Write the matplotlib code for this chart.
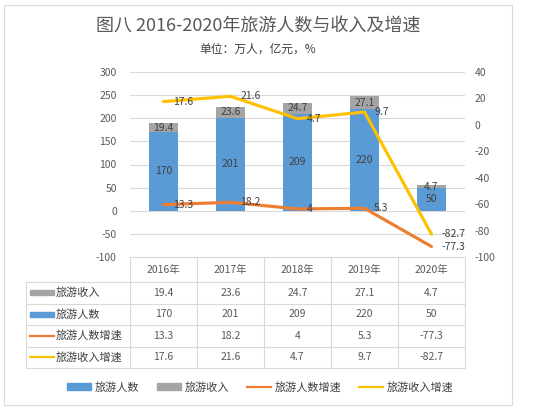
import matplotlib.pyplot as plt
from matplotlib.lines import Line2D
from matplotlib.patches import Rectangle, Patch
import matplotlib.transforms as mtransforms

plt.rcParams['font.family'] = ['Noto Sans CJK SC', 'DejaVu Sans']
plt.rcParams['axes.unicode_minus'] = False

### data
years = ['2016年', '2017年', '2018年', '2019年', '2020年']
tourists = [170, 201, 209, 220, 50]          # 旅游人数 (万人)
income = [19.4, 23.6, 24.7, 27.1, 4.7]       # 旅游收入 (亿元)
tourist_growth = [13.3, 18.2, 4, 5.3, -77.3] # 旅游人数增速 (%)
income_growth = [17.6, 21.6, 4.7, 9.7, -82.7] # 旅游收入增速 (%)

c_blue = '#5B9BD5'
c_gray = '#A5A5A5'
c_orange = '#ED7D31'
c_yellow = '#FFC000'
c_text = '#595959'
c_lab = '#404040'
c_grid = '#D9D9D9'

W, H = 550, 416

def fx(px):
    return px / W

def fy(py):
    return 1 - py / H

fig = plt.figure(figsize=(W / 100, H / 100), dpi=100)

# outer frame
fig.add_artist(Rectangle((fx(4), fy(405)), fx(508), 400 / H, fill=False,
                         edgecolor=c_grid, lw=0.8, transform=fig.transFigure))

fig.text(fx(258), fy(27), '图八 2016-2020年旅游人数与收入及增速',
         ha='center', va='center', fontsize=13, color=c_text)
fig.text(fx(258), fy(49), '单位：万人，亿元，%',
         ha='center', va='center', fontsize=8.5, color=c_lab)

ax = fig.add_axes([fx(130), fy(257), fx(335), 185 / H])
ax2 = ax.twinx()

x = list(range(len(years)))
ax.bar(x, tourists, width=0.42, color=c_blue, zorder=2)
ax.bar(x, income, width=0.42, bottom=tourists, color=c_gray, zorder=2)
ax.plot(x, tourist_growth, color=c_orange, lw=2.25, zorder=3,
        solid_capstyle='round')
ax2.plot(x, income_growth, color=c_yellow, lw=2.25, zorder=3,
         solid_capstyle='round')

ax.set_xlim(-0.5, len(years) - 0.5)
ax.set_ylim(-100, 300)
ax.set_yticks(range(-100, 301, 50))
ax2.set_ylim(-100, 40)
ax2.set_yticks(range(-100, 41, 20))
ax.set_xticks([])
ax.grid(axis='y', color=c_grid, lw=0.8, zorder=0)
ax.set_axisbelow(True)
for a in (ax, ax2):
    for s in a.spines.values():
        s.set_visible(False)
ax.tick_params(axis='y', length=0, pad=9.5, labelsize=7.5, labelcolor=c_text)
ax2.tick_params(axis='y', length=0, pad=7, labelsize=7.5, labelcolor=c_text)

# data labels
for i in x:
    ax.text(i, tourists[i] / 2, '{:g}'.format(tourists[i]), ha='center',
            va='center', fontsize=7.5, color=c_lab, zorder=5)
    ax.text(i, tourists[i] + income[i] / 2, '{:g}'.format(income[i]),
            ha='center', va='center', fontsize=7.5, color=c_lab, zorder=5)
    ax.annotate('{:g}'.format(tourist_growth[i]), (i, tourist_growth[i]),
                xytext=(7, 0), textcoords='offset points', ha='left',
                va='center', fontsize=7.5, color=c_lab, zorder=5)
    ax2.annotate('{:g}'.format(income_growth[i]), (i, income_growth[i]),
                 xytext=(7, 0), textcoords='offset points', ha='left',
                 va='center', fontsize=7.5, color=c_lab, zorder=5)

# data table below the plot
trans = mtransforms.blended_transform_factory(ax.transData, fig.transFigure)
row_names = ['旅游收入', '旅游人数', '旅游人数增速', '旅游收入增速']
row_vals = [income, tourists, tourist_growth, income_growth]
row_y = [257, 282, 303.5, 325, 346.5, 368]

# horizontal lines
fig.add_artist(Line2D([-0.5, 4.5], [fy(257), fy(257)], color=c_grid, lw=0.8,
                      transform=trans))
for yy in row_y[1:]:
    fig.add_artist(Line2D([fx(26), fx(465)], [fy(yy), fy(yy)], color=c_grid,
                          lw=0.8, transform=fig.transFigure))
# vertical lines
for xx in [i - 0.5 for i in range(len(years) + 1)]:
    fig.add_artist(Line2D([xx, xx], [fy(257), fy(368)], color=c_grid, lw=0.8,
                          transform=trans))
fig.add_artist(Line2D([fx(26), fx(26)], [fy(282), fy(368)], color=c_grid,
                      lw=0.8, transform=fig.transFigure))

for i, yr in enumerate(years):
    fig.text(i, fy(270), yr, ha='center', va='center', fontsize=7.5,
             color=c_text, transform=trans)

keys = [('bar', c_gray), ('bar', c_blue), ('line', c_orange), ('line', c_yellow)]
for r, name in enumerate(row_names):
    yc = (row_y[r + 1] + row_y[r + 2]) / 2
    kind, col = keys[r]
    if kind == 'bar':
        fig.add_artist(Rectangle((fx(30), fy(yc + 2.5)), fx(24), 5 / H,
                                 color=col, transform=fig.transFigure))
    else:
        fig.add_artist(Line2D([fx(30), fx(54)], [fy(yc), fy(yc)], color=col,
                              lw=1.6, transform=fig.transFigure))
    fig.text(fx(56), fy(yc), name, ha='left', va='center', fontsize=8,
             color=c_lab)
    for i in x:
        fig.text(i, fy(yc), '{:g}'.format(row_vals[r][i]), ha='center',
                 va='center', fontsize=7.5, color=c_text, transform=trans)

# legend
handles = [Patch(color=c_blue), Patch(color=c_gray),
           Line2D([], [], color=c_orange, lw=1.6),
           Line2D([], [], color=c_yellow, lw=1.6)]
labels = ['旅游人数', '旅游收入', '旅游人数增速', '旅游收入增速']
fig.legend(handles, labels, loc='center', bbox_to_anchor=(fx(260), fy(387)),
           ncol=4, frameon=False, fontsize=8, labelcolor=c_lab,
           handlelength=2.2, handleheight=0.55, handletextpad=0.3,
           columnspacing=1.6)

fig.savefig('out.png', dpi=100)
